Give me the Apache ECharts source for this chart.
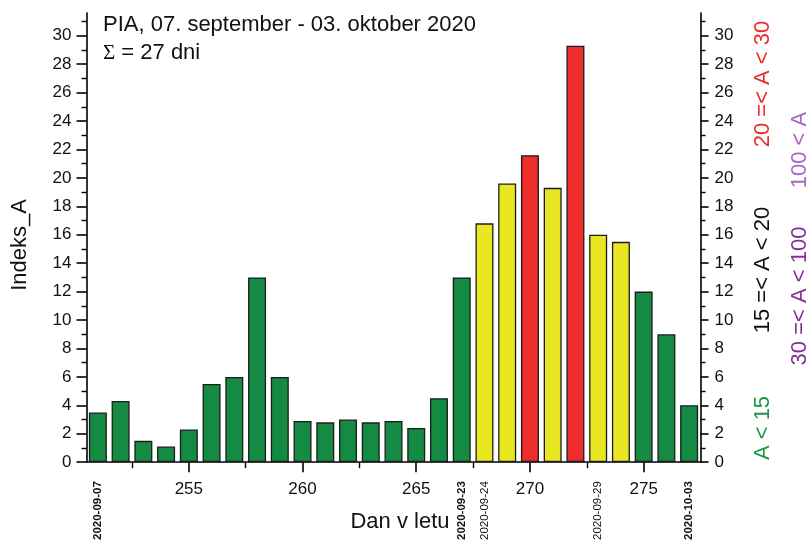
<!DOCTYPE html>
<html>
<head>
<meta charset="utf-8">
<script src="https://cdn.jsdelivr.net/npm/echarts@6/dist/echarts.min.js"></script>
<style>
  html, body { margin: 0; padding: 0; background: #fff; }
  #chart { width: 811px; height: 543px; }
</style>
</head>
<body>
<div id="chart"></div>
<script>
// Daily A index, PIA station, day of year 251 .. 277 (2020)
const days = [251, 252, 253, 254, 255, 256, 257, 258, 259, 260, 261, 262, 263, 264,
              265, 266, 267, 268, 269, 270, 271, 272, 273, 274, 275, 276, 277];
const indexA = [3.5, 4.3, 1.5, 1.1, 2.3, 5.5, 6.0, 13.0, 6.0, 2.9, 2.8, 3.0, 2.8, 2.9,
                2.4, 4.5, 13.0, 16.8, 19.6, 21.6, 19.3, 29.3, 16.0, 15.5, 12.0, 9.0, 4.0];

// Axis ticks and labels
const dayMajorTicks = [255, 260, 265, 270, 275];
const dayMinorTicks = [252.5, 257.5, 262.5, 267.5, 272.5];
const yMajorTicks = [0, 2, 4, 6, 8, 10, 12, 14, 16, 18, 20, 22, 24, 26, 28, 30];
const yMinorTicks = [1, 3, 5, 7, 9, 11, 13, 15, 17, 19, 21, 23, 25, 27, 29, 31];

// Calendar dates printed under selected days
const dateDays = [251, 267, 268, 273, 277];
const dateLabels = ['2020-09-07', '2020-09-23', '2020-09-24', '2020-09-29', '2020-10-03'];
const dateBold = [true, true, false, false, true];

// Activity classes (colour legend on the right)
const classLabels = ['A < 15', '15 =< A < 20', '20 =< A < 30', '30 =< A < 100', '100 < A'];
const classColors = ['#1a9a45', '#111111', '#ee2a2a', '#8a2d9c', '#a866c0'];

const titleText = 'PIA, 07. september - 03. oktober 2020';
const sumText = '27 dni';

const GREEN = '#148a42', YELLOW = '#e9e622', RED = '#ee2c2c', PURPLE = '#8a2d9c', LILAC = '#a866c0';
function barColor(a) {
  if (a < 15) return GREEN;
  if (a < 20) return YELLOW;
  if (a < 30) return RED;
  if (a < 100) return PURPLE;
  return LILAC;
}

const FONT = 'Liberation Sans, Arial, sans-serif';
const chart = echarts.init(document.getElementById('chart'), null, { renderer: 'canvas' });

const yMax = 31.6;
const axisLineStyle = { color: '#000', width: 1.6 };

const option = {
  animation: false,
  backgroundColor: '#fff',
  grid: { left: 86.5, right: 110.5, top: 13, bottom: 80, containLabel: false },
  xAxis: [
    {
      type: 'value', position: 'bottom', min: 250.5, max: 277.5,
      axisLine: { show: true, onZero: false, lineStyle: axisLineStyle },
      axisTick: { show: true, length: 10, inside: false, customValues: dayMajorTicks,
                  lineStyle: { color: '#000', width: 1.6 } },
      axisLabel: { show: true, customValues: dayMajorTicks, margin: 19,
                   fontFamily: FONT, fontSize: 17, color: '#111' },
      splitLine: { show: false }
    },
    {
      type: 'value', position: 'bottom', min: 250.5, max: 277.5,
      axisLine: { show: false, onZero: false },
      axisTick: { show: true, length: 6, inside: false, customValues: dayMinorTicks,
                  lineStyle: { color: '#000', width: 1.4 } },
      axisLabel: {
        show: true, customValues: dateDays, rotate: 90, margin: 19,
        formatter: function (v) {
          const i = dateDays.indexOf(Math.round(v));
          if (i < 0) return '';
          return '{' + (dateBold[i] ? 'b' : 'n') + '|' + dateLabels[i] + '}';
        },
        rich: {
          b: { fontFamily: FONT, fontSize: 11.5, fontWeight: 'bold', color: '#111' },
          n: { fontFamily: FONT, fontSize: 11.5, fontWeight: 'normal', color: '#111' }
        }
      },
      splitLine: { show: false }
    }
  ],
  yAxis: [
    {
      type: 'value', position: 'left', min: 0, max: yMax,
      axisLine: { show: true, onZero: false, lineStyle: axisLineStyle },
      axisTick: { show: true, length: 10, inside: false, customValues: yMajorTicks,
                  lineStyle: { color: '#000', width: 1.6 } },
      axisLabel: { show: true, customValues: yMajorTicks, margin: 15,
                   fontFamily: FONT, fontSize: 17, color: '#111' },
      splitLine: { show: false }
    },
    {
      type: 'value', position: 'right', min: 0, max: yMax,
      axisLine: { show: true, onZero: false, lineStyle: axisLineStyle },
      axisTick: { show: true, length: 8, inside: false, customValues: yMajorTicks,
                  lineStyle: { color: '#000', width: 1.6 } },
      axisLabel: { show: true, customValues: yMajorTicks, margin: 14,
                   fontFamily: FONT, fontSize: 17, color: '#111' },
      splitLine: { show: false }
    },
    {
      type: 'value', position: 'left', min: 0, max: yMax,
      axisLine: { show: false, onZero: false },
      axisTick: { show: true, length: 5, inside: false, customValues: yMinorTicks,
                  lineStyle: { color: '#000', width: 1.4 } },
      axisLabel: { show: false },
      splitLine: { show: false }
    },
    {
      type: 'value', position: 'right', min: 0, max: yMax,
      axisLine: { show: false, onZero: false },
      axisTick: { show: true, length: 5, inside: false, customValues: yMinorTicks,
                  lineStyle: { color: '#000', width: 1.4 } },
      axisLabel: { show: false },
      splitLine: { show: false }
    }
  ],
  series: [
    {
      type: 'bar',
      xAxisIndex: 0, yAxisIndex: 0,
      barWidth: 18,
      data: days.map((d, i) => [d, indexA[i]]),
      itemStyle: {
        color: p => barColor(p.value[1]),
        borderColor: '#1c1c1c',
        borderWidth: 1.3
      }
    }
  ],
  graphic: [
    {
      type: 'text', x: 103, y: 24.5,
      style: { text: titleText, font: '22px ' + FONT, fill: '#111',
               align: 'left', verticalAlign: 'middle' }
    },
    {
      type: 'text', x: 103, y: 53,
      style: {
        text: '{s|Σ}{t| = ' + sumText + '}',
        align: 'left', verticalAlign: 'middle',
        rich: {
          s: { fontFamily: 'Liberation Serif, Times New Roman, serif', fontSize: 21, fill: '#111' },
          t: { fontFamily: FONT, fontSize: 22, fill: '#111' }
        }
      }
    },
    {
      type: 'text', x: 400, y: 522,
      style: { text: 'Dan v letu', font: '22px ' + FONT, fill: '#111',
               align: 'center', verticalAlign: 'middle' }
    },
    {
      type: 'text', x: 19.5, y: 245, rotation: Math.PI / 2,
      style: { text: 'Indeks_A', font: '22px ' + FONT, fill: '#111',
               align: 'center', verticalAlign: 'middle' }
    },
    // class legend, rotated along the right edge
    { type: 'text', x: 763, y: 428, rotation: Math.PI / 2,
      style: { text: classLabels[0], font: '22px ' + FONT, fill: classColors[0], align: 'center', verticalAlign: 'middle' } },
    { type: 'text', x: 763, y: 270, rotation: Math.PI / 2,
      style: { text: classLabels[1], font: '22px ' + FONT, fill: classColors[1], align: 'center', verticalAlign: 'middle' } },
    { type: 'text', x: 763, y: 84, rotation: Math.PI / 2,
      style: { text: classLabels[2], font: '22px ' + FONT, fill: classColors[2], align: 'center', verticalAlign: 'middle' } },
    { type: 'text', x: 800, y: 296, rotation: Math.PI / 2,
      style: { text: classLabels[3], font: '22px ' + FONT, fill: classColors[3], align: 'center', verticalAlign: 'middle' } },
    { type: 'text', x: 800, y: 150, rotation: Math.PI / 2,
      style: { text: classLabels[4], font: '22px ' + FONT, fill: classColors[4], align: 'center', verticalAlign: 'middle' } }
  ]
};

chart.setOption(option);
</script>
</body>
</html>
